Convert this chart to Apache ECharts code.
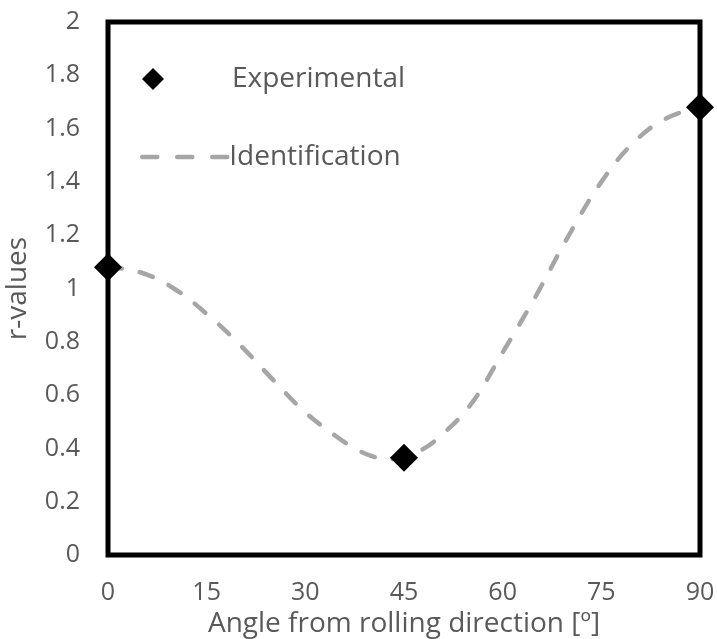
<!DOCTYPE html>
<html><head><meta charset="utf-8">
<script src="https://cdn.jsdelivr.net/npm/echarts@6/dist/echarts.min.js"></script>
<style>html,body{margin:0;padding:0;background:#fff}#c{width:717px;height:639px}</style>
</head><body><div id="c"></div>
<script>
const expAngles = [0, 45, 90];
const expValues = [1.08, 0.365, 1.68];
const idAngles = [0, 5, 10, 15, 20, 25, 30, 35, 37.5, 40, 42.5, 45, 47.5, 50, 55, 60, 65, 70, 75, 80, 85, 90];
const idValues = [1.08, 1.06, 1.00, 0.905, 0.79, 0.66, 0.535, 0.44, 0.40, 0.372, 0.36, 0.366, 0.392, 0.435, 0.56, 0.76, 0.97, 1.197, 1.40, 1.55, 1.64, 1.68];
const xTicks = [0, 15, 30, 45, 60, 75, 90];
const yTicks = [0, 0.2, 0.4, 0.6, 0.8, 1, 1.2, 1.4, 1.6, 1.8, 2];

const font = 'Open Sans';
const txt = '#595959';
const chart = echarts.init(document.getElementById('c'), null, {renderer: 'canvas'});
chart.setOption({
  animation: false,
  grid: {left: 108, right: 17, top: 22, bottom: 84, show: true, borderColor: '#000', borderWidth: 5, backgroundColor: '#fff',
    containLabel: false, outerBoundsMode: 'none'},
  xAxis: {
    type: 'value', min: 0, max: 90, interval: 15,
    name: 'Angle from rolling direction [º]', nameLocation: 'middle', nameGap: 51,
    nameTextStyle: {fontFamily: font, fontSize: 28, color: txt},
    axisLine: {show: false}, axisTick: {show: false}, splitLine: {show: false},
    axisLabel: {fontFamily: font, fontSize: 25, color: txt, margin: 25,
      formatter: v => xTicks.includes(v) ? String(v) : ''}
  },
  yAxis: {
    type: 'value', min: 0, max: 2, interval: 0.2,
    name: 'r-values', nameLocation: 'middle', nameGap: 76,
    nameTextStyle: {fontFamily: font, fontSize: 28, color: txt},
    axisLine: {show: false}, axisTick: {show: false}, splitLine: {show: false},
    axisLabel: {fontFamily: font, fontSize: 25, color: txt, margin: 28,
      formatter: v => { const t = yTicks.find(k => Math.abs(k - v) < 1e-9); return t === undefined ? '' : String(Math.round(t * 10) / 10); }}
  },
  legend: [
    {data: ['Experimental'], left: 137, top: 60, itemWidth: 22, itemHeight: 22,
      itemStyle: {opacity: 1},
      textStyle: {fontFamily: font, fontSize: 28, color: txt, padding: [0, 0, 0, 63]}},
    {data: ['Identification'], left: 135, top: 138, itemWidth: 90, itemHeight: 28,
      itemStyle: {opacity: 0},
      lineStyle: {color: '#A6A6A6', width: 4.5, type: [15, 20], cap: 'round'},
      textStyle: {fontFamily: font, fontSize: 28, color: txt, padding: [0, 0, 0, -8]}}
  ],
  series: [
    {name: 'Identification', type: 'line', smooth: 0.4, symbol: 'none', z: 2,
      data: idAngles.map((a, i) => [a, idValues[i]]),
      lineStyle: {color: '#A6A6A6', width: 4.5, type: [14, 18], cap: 'round'},
      itemStyle: {color: '#A6A6A6'}},
    {name: 'Experimental', type: 'scatter', symbol: 'diamond', symbolSize: 28, z: 5,
      data: expAngles.map((a, i) => [a, expValues[i]]),
      itemStyle: {color: '#000', opacity: 1}}
  ]
});
</script></body></html>
